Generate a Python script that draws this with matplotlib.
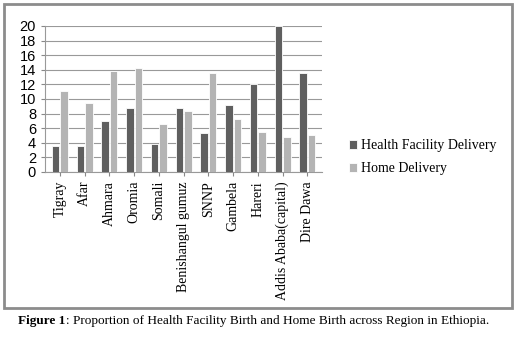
import numpy as np
import matplotlib.pyplot as plt
from matplotlib.patches import Rectangle

regions = ['Tigray', 'Afar', 'Ahmara', 'Oromia', 'Somali', 'Benishangul gumuz',
           'SNNP', 'Gambela', 'Hareri', 'Addis Ababa(capital)', 'Dire Dawa']
health_facility = [3.5, 3.5, 7.0, 8.7, 3.8, 8.7, 5.3, 9.2, 12.1, 20.0, 13.5]
home_delivery = [11.1, 9.5, 13.8, 14.2, 6.5, 8.4, 13.5, 7.3, 5.5, 4.8, 5.0]

fig = plt.figure(figsize=(5.18, 3.37), dpi=100)
ax = fig.add_axes([0.087, 0.49, 0.535, 0.433])

x = np.arange(len(regions))
w = 0.3
ax.bar(x - 0.17, health_facility, w, color='#5f5f5f', edgecolor='white', linewidth=0.6,
       label='Health Facility Delivery', zorder=3)
ax.bar(x + 0.17, home_delivery, w, color='#b4b4b4', edgecolor='white', linewidth=0.6,
       label='Home Delivery', zorder=3)

ax.set_ylim(0, 20)
ax.set_xlim(-0.6, len(regions) - 0.4)
ax.set_yticks(range(0, 21, 2))
ax.set_xticks(x)
ax.set_xticklabels(regions, rotation=90, family='Liberation Serif', fontsize=10)
ax.tick_params(axis='y', labelsize=10.5, length=3, color='#888888')
ax.tick_params(axis='x', length=3, color='#888888')
for lab in ax.get_yticklabels():
    lab.set_family('Liberation Sans')
ax.yaxis.grid(True, color='#999999', linewidth=0.8, zorder=0)
for s in ['top', 'right']:
    ax.spines[s].set_visible(False)
ax.spines['left'].set_color('#999999')
ax.spines['bottom'].set_color('#999999')

ax.legend(loc='center left', bbox_to_anchor=(1.05, 0.1), frameon=False,
          prop={'family': 'Liberation Serif', 'size': 10}, handlelength=0.6,
          handleheight=0.6, handletextpad=0.3, labelspacing=0.7)

# grey frame around the chart
fig.patches.append(Rectangle((4 / 518, 1 - 308 / 337), 508 / 518, 304 / 337,
                             transform=fig.transFigure, fill=False,
                             edgecolor='#8c8c8c', linewidth=2))

# caption
t1 = fig.text(0.035, 1 - 327 / 337, 'Figure 1', fontweight='bold',
              family='Liberation Serif', fontsize=9.5, va='bottom')
ax.annotate(': Proportion of Health Facility Birth and Home Birth across Region in Ethiopia.',
            xy=(1, 0), xycoords=t1, va='bottom', ha='left',
            family='Liberation Serif', fontsize=9.5, annotation_clip=False)

fig.savefig('out.png', dpi=100)
